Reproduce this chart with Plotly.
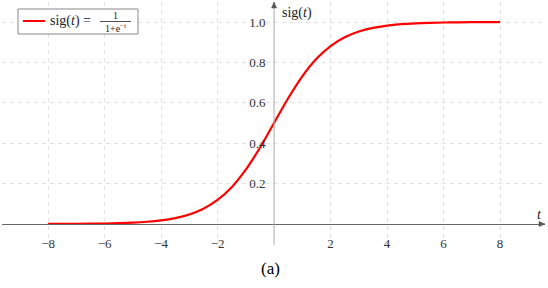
import plotly.graph_objects as go

t_vals = [-8, -7.5, -7, -6.5, -6, -5.5, -5, -4.5, -4, -3.5, -3, -2.5, -2, -1.5, -1, -0.5,
          0, 0.5, 1, 1.5, 2, 2.5, 3, 3.5, 4, 4.5, 5, 5.5, 6, 6.5, 7, 7.5, 8]
sig_vals = [0.0003, 0.0006, 0.0009, 0.0015, 0.0025, 0.0041, 0.0067, 0.0110, 0.0180, 0.0293,
            0.0474, 0.0759, 0.1192, 0.1824, 0.2689, 0.3775, 0.5, 0.6225, 0.7311, 0.8176,
            0.8808, 0.9241, 0.9526, 0.9707, 0.9820, 0.9890, 0.9933, 0.9959, 0.9975, 0.9985,
            0.9991, 0.9994, 0.9997]
x_ticks = [-8, -6, -4, -2, 2, 4, 6, 8]
x_tick_text = ["\u22128", "\u22126", "\u22124", "\u22122", "2", "4", "6", "8"]
y_ticks = [0.2, 0.4, 0.6, 0.8, 1.0]
y_tick_text = ["0.2", "0.4", "0.6", "0.8", "1.0"]

W, H = 548, 288
ML, MR, MT, MB = 2, 3, 2, 43
XR = [-9.63, 9.59]
YR = [-0.104, 1.099]
SERIF = "Liberation Serif, Times New Roman, serif"

def px(x):
    return (x - ML) / (W - ML - MR)

def py(y):
    return (H - MB - y) / (H - MT - MB)

xpos = (0 - YR[0]) / (YR[1] - YR[0])
ypos = (0 - XR[0]) / (XR[1] - XR[0])

fig = go.Figure()
fig.add_trace(go.Scatter(x=t_vals, y=sig_vals, mode="lines",
                         line=dict(color="#ff0000", width=2.2, shape="spline"),
                         showlegend=False, hoverinfo="skip"))

fig.update_layout(
    width=W, height=H,
    margin=dict(l=ML, r=MR, t=MT, b=MB),
    paper_bgcolor="white", plot_bgcolor="white",
    font=dict(family=SERIF, size=12, color="#333"),
    xaxis=dict(range=XR, anchor="free", position=xpos,
               tickvals=x_ticks, ticktext=x_tick_text,
               showgrid=True, gridcolor="#e2e2e2", griddash="4px,4px", gridwidth=1,
               zeroline=False, showline=True, linecolor="#666", linewidth=1,
               ticks="outside", ticklen=7, tickcolor="rgba(0,0,0,0)",
               tickfont=dict(family=SERIF, size=13, color="#333")),
    yaxis=dict(range=YR, anchor="free", position=ypos,
               tickvals=y_ticks, ticktext=y_tick_text,
               showgrid=True, gridcolor="#e2e2e2", griddash="4px,4px", gridwidth=1,
               zeroline=False, showline=False,
               ticks="outside", ticklen=6, tickcolor="rgba(0,0,0,0)",
               tickfont=dict(family=SERIF, size=13, color="#333")),
)

# vertical axis line (x = 0)
fig.add_shape(type="line", xref="x", yref="paper", x0=0, x1=0, y0=0, y1=1,
              line=dict(color="#aaa", width=1))
# arrow heads (pixel-positioned triangles)
ax0 = ML + (0 - XR[0]) / (XR[1] - XR[0]) * (W - ML - MR)
ay0 = MT + (YR[1] - 0) / (YR[1] - YR[0]) * (H - MT - MB)
fig.add_shape(type="path", xref="paper", yref="paper",
              path=f"M {px(ax0)} {py(2)} L {px(ax0 - 2.5)} {py(8)} L {px(ax0 + 2.5)} {py(8)} Z",
              fillcolor="#555", line=dict(color="#555", width=0.5))
fig.add_shape(type="path", xref="paper", yref="paper",
              path=f"M {px(545)} {py(ay0)} L {px(539)} {py(ay0 - 2.5)} L {px(539)} {py(ay0 + 2.5)} Z",
              fillcolor="#555", line=dict(color="#555", width=0.5))

# axis labels
fig.add_annotation(xref="paper", yref="paper", x=px(280), y=py(13), xanchor="left", yanchor="middle",
                   text="sig(<i>t</i>)", showarrow=False, font=dict(family=SERIF, size=14, color="#222"))
fig.add_annotation(xref="paper", yref="paper", x=px(539), y=py(214), xanchor="center", yanchor="middle",
                   text="<i>t</i>", showarrow=False, font=dict(family=SERIF, size=14, color="#222"))

# legend box
fig.add_shape(type="rect", xref="paper", yref="paper", x0=px(18), x1=px(138), y0=py(34), y1=py(9),
              line=dict(color="#888", width=1), fillcolor="white", layer="above")
fig.add_shape(type="line", xref="paper", yref="paper", x0=px(23), x1=px(45), y0=py(21), y1=py(21),
              line=dict(color="#ff0000", width=2), layer="above")
fig.add_annotation(xref="paper", yref="paper", x=px(48), y=py(21), xanchor="left", yanchor="middle",
                   text="sig(<i>t</i>) =", showarrow=False, font=dict(family=SERIF, size=14, color="#222"))
fig.add_shape(type="line", xref="paper", yref="paper", x0=px(100), x1=px(131), y0=py(21.5), y1=py(21.5),
              line=dict(color="#222", width=0.8), layer="above")
fig.add_annotation(xref="paper", yref="paper", x=px(115.5), y=py(16), xanchor="center", yanchor="middle",
                   text="1", showarrow=False, font=dict(family=SERIF, size=10, color="#222"))
fig.add_annotation(xref="paper", yref="paper", x=px(115.5), y=py(27.5), xanchor="center", yanchor="middle",
                   text="1+e<sup>\u2212<i>t</i></sup>", showarrow=False, font=dict(family=SERIF, size=10, color="#222"))

# caption
fig.add_annotation(xref="paper", yref="paper", x=px(270), y=py(268), xanchor="center", yanchor="middle",
                   text="(a)", showarrow=False, font=dict(family=SERIF, size=17, color="#000"))

fig.write_html("out.html", config={"displayModeBar": False},
               post_script="document.body.style.margin='0px';")
